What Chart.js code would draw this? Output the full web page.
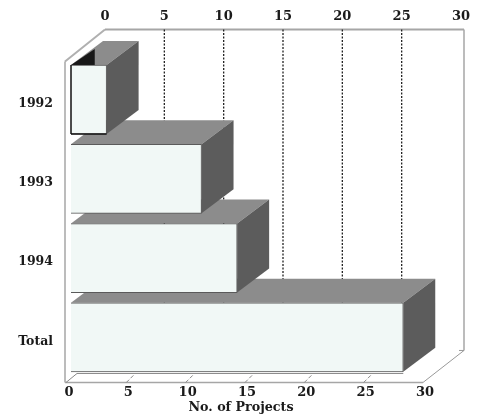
<!DOCTYPE html>
<html>
<head>
<meta charset="utf-8">
<style>html,body{margin:0;padding:0;background:#fff}canvas{display:block}</style>
<script src="https://cdn.jsdelivr.net/npm/chart.js@4"></script>
</head>
<body>
<canvas id="c" width="482" height="415"></canvas>
<script>
const categories = ['1992', '1993', '1994', 'Total'];
const projects = [3, 11, 14, 28];
const axisTitle = 'No. of Projects';
const gridValues = [5, 10, 15, 20, 25];

const FONT = '"DejaVu Serif"';
const frontFace = '#f1f8f6', topFace = '#8c8c8c', sideFace = '#5c5c5c';
const barDepthX = 32, barDepthY = -24;
const wallX = 34, wallY = -32, frontInset = -4, frontDrop = 5.5;

function poly(ctx, pts, fill, stroke) {
  ctx.beginPath();
  pts.forEach((p, i) => i ? ctx.lineTo(p[0], p[1]) : ctx.moveTo(p[0], p[1]));
  ctx.closePath();
  if (fill) { ctx.fillStyle = fill; ctx.fill(); }
  if (stroke) { ctx.strokeStyle = stroke; ctx.lineWidth = 1; ctx.stroke(); }
}
function line(ctx, a, b, color, width, dash) {
  ctx.beginPath();
  ctx.setLineDash(dash || []);
  ctx.moveTo(a[0], a[1]); ctx.lineTo(b[0], b[1]);
  ctx.strokeStyle = color; ctx.lineWidth = width; ctx.stroke();
  ctx.setLineDash([]);
}

const box3d = {
  id: 'box3d',
  beforeDatasetsDraw(chart) {
    const ctx = chart.ctx, x = chart.scales.x, area = chart.chartArea;
    const floorY = area.bottom + frontDrop;
    const x0 = x.getPixelForValue(0), x30 = x.getPixelForValue(30);
    const topY = floorY - 321, backTop = topY + wallY;
    const wallColor = '#a6a6a6';
    const bars = chart.getDatasetMeta(0).data;
    const lastBar = bars[bars.length - 1];
    ctx.save();
    // walls and floor
    line(ctx, [x0 + wallX, backTop], [x30 + wallX + 3, backTop], wallColor, 2);
    line(ctx, [x30 + wallX + 3, backTop], [x30 + wallX + 3, floorY + wallY], wallColor, 1.5);
    line(ctx, [x0 + frontInset - 2, topY], [x0 + wallX, backTop], '#b0b0b0', 2);
    line(ctx, [x0 + frontInset - 2, topY], [x0 + frontInset - 2, floorY], wallColor, 1.5);
    line(ctx, [x0 + frontInset - 2, floorY], [x30 + frontInset, floorY], wallColor, 1.5);
    line(ctx, [x30 + frontInset, floorY], [x30 + wallX + 3, floorY + wallY], '#999', 1);
    line(ctx, [x30 + barDepthX, floorY + wallY], [x30 + wallX + 3, floorY + wallY], '#999', 1);
    line(ctx, [x0 + frontInset - 1, floorY], [x0 + 6, floorY - 9], '#888', 1);
    line(ctx, [x0 + 6, floorY - 9], [lastBar.x, floorY - 9], '#888', 1);
    // dotted gridlines on the back wall, short dashes on the floor
    gridValues.forEach(v => {
      const p = x.getPixelForValue(v);
      line(ctx, [p + wallX, backTop], [p + wallX, floorY + wallY], '#222', 1.3, [2, 1.5]);
      line(ctx, [p + frontInset, floorY], [p + frontInset + 8, floorY - 8], '#888', 1, [4, 2]);
    });
    // depth faces: lower bars first, each upper bar overlaps the one below
    for (let i = bars.length - 1; i >= 0; i--) {
      const b = bars[i];
      const l = b.base, r = b.x, t = b.y - b.height / 2, bt = b.y + b.height / 2;
      poly(ctx, [[l, t], [r, t], [r + barDepthX, t + barDepthY], [l + barDepthX, t + barDepthY]], topFace);
      poly(ctx, [[r, t], [r + barDepthX, t + barDepthY], [r + barDepthX, bt + barDepthY], [r, bt]], sideFace);
      if (i === 0) {
        const m = x.getPixelForValue(2);
        poly(ctx, [[l, t], [m, t + barDepthY + 8], [m, t]], '#181818');
      }
    }
    ctx.restore();
  },
  afterDatasetsDraw(chart) {
    const ctx = chart.ctx, b = chart.getDatasetMeta(0).data[0];
    const t = b.y - b.height / 2, bt = b.y + b.height / 2;
    ctx.save();
    line(ctx, [b.base, t], [b.base, bt], '#111', 1.5);
    line(ctx, [b.base, bt], [b.x, bt], '#111', 1.5);
    ctx.restore();
  }
};

new Chart(document.getElementById('c'), {
  type: 'bar',
  data: {
    labels: categories,
    datasets: [{
      data: projects,
      xAxisID: 'x',
      yAxisID: 'y',
      backgroundColor: frontFace,
      borderColor: '#5a5a5a',
      borderWidth: 1,
      barThickness: 69
    }]
  },
  plugins: [box3d],
  options: {
    responsive: false,
    animation: false,
    indexAxis: 'y',
    layout: { padding: 0 },
    plugins: {
      legend: { display: false },
      tooltip: { enabled: false },
      title: {
        display: true,
        position: 'bottom',
        text: axisTitle,
        color: '#1a1a1a',
        font: { family: FONT, size: 12.7, weight: 'bold', lineHeight: 1.2 },
        padding: { top: 0, bottom: 0 }
      }
    },
    scales: {
      x: {
        type: 'linear', position: 'bottom', min: 0, max: 30,
        grid: { display: false, drawTicks: false }, border: { display: false },
        afterFit(s) { s.height = 22.8; },
        ticks: {
          stepSize: 5, autoSkip: false, minRotation: 0, maxRotation: 0,
          labelOffset: -2, padding: 8, color: '#1a1a1a',
          font: { family: FONT, size: 13, weight: 'bold' }
        }
      },
      x2: {
        type: 'linear', axis: 'x', position: 'top', min: 0, max: 30,
        grid: { display: false, drawTicks: false }, border: { display: false },
        afterFit(s) { s.height = 60; },
        ticks: {
          stepSize: 5, autoSkip: false, minRotation: 0, maxRotation: 0,
          labelOffset: 34, padding: 36, color: '#1a1a1a',
          font: { family: FONT, size: 13, weight: 'bold' }
        }
      },
      y: {
        type: 'category', position: 'left',
        grid: { display: false, drawTicks: false }, border: { display: false },
        afterFit(s) { s.width = 71; },
        ticks: {
          autoSkip: false, labelOffset: 4, padding: 18, color: '#1a1a1a',
          font: { family: FONT, size: 12.5, weight: 'bold' }
        }
      },
      yRight: {
        type: 'category', axis: 'y', position: 'right',
        grid: { display: false, drawTicks: false }, border: { display: false },
        afterFit(s) { s.width = 55; },
        ticks: { display: false }
      }
    }
  }
});
</script>
</body>
</html>
